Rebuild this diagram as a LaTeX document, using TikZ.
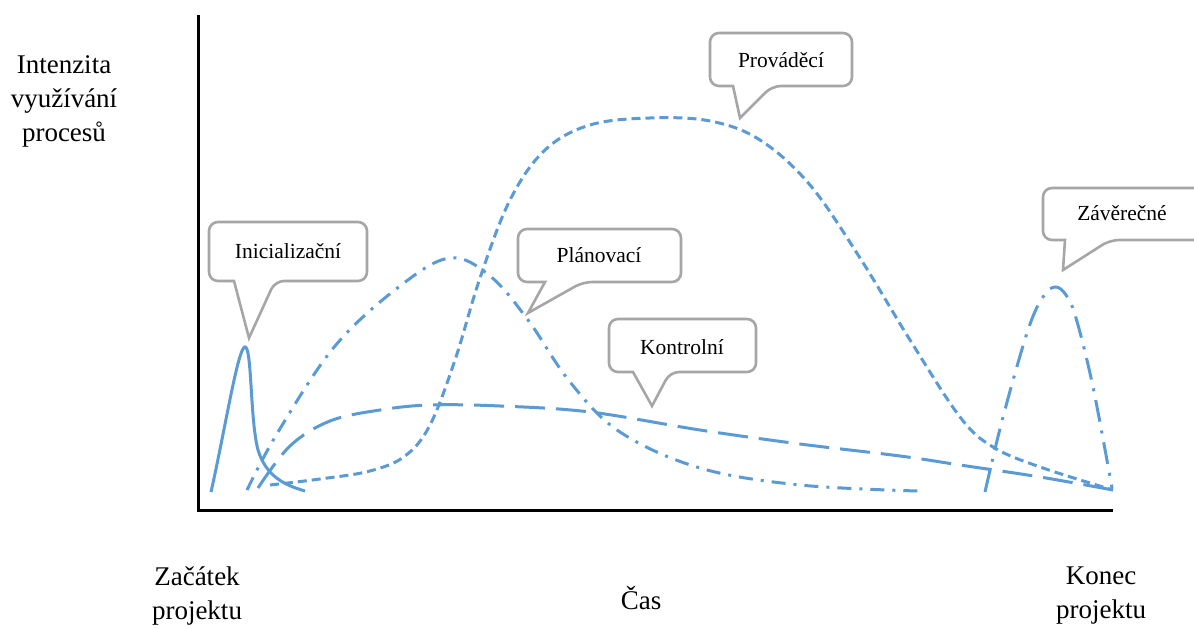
\documentclass[tikz,border=0pt]{standalone}
\usepackage{fontspec}
\setmainfont{Liberation Serif}
\begin{document}
\definecolor{curveblue}{HTML}{5B9BD5}
\definecolor{bubblegray}{HTML}{A6A6A6}
% Speech bubble outline: left, top, right, bottom, pointer base x1, x2, tip
\newcommand{\bubbleoutline}[7]{%
  \draw[bubbleline] (#5,#4) [rounded corners=9] -- (#1,#4) -- (#1,#2) -- (#3,#2) -- (#3,#4) -- (#6,#4) [sharp corners] -- (#7) -- cycle;}
\begin{tikzpicture}[x=1pt,y=-1pt,
  axisline/.style={line width=3pt,black},
  curve/.style={line width=3pt,curveblue},
  initcurve/.style={curve},
  plancurve/.style={curve,dash pattern=on 14pt off 8pt on 3pt off 8pt},
  ctrlcurve/.style={curve,dash pattern=on 30pt off 11pt},
  execcurve/.style={curve,dash pattern=on 9pt off 5pt},
  closecurve/.style={curve,dash pattern=on 22pt off 9pt on 3pt off 9pt},
  bubbleline/.style={line width=2.6pt,bubblegray,fill=white,line join=miter},
  bubbletext/.style={font=\fontsize{21.5}{26}\selectfont,inner sep=0pt},
  axistext/.style={font=\fontsize{27}{34}\selectfont,align=center,inner sep=0pt}]
\clip (0,0) rectangle (1194,628);
\fill[white] (0,0) rectangle (1194,628);

% axes
\coordinate (ytop) at (198,15);
\coordinate (origin) at (198,510);
\coordinate (xend) at (1113,510);
\draw[axisline] (ytop) -- (origin) -- (xend);

% axis texts
\node[axistext] (ylabel) at (64,101) {Intenzita\\využívání\\procesů};
\node[axistext] (start) at (197,596) {Začátek\\projektu};
\node[axistext] (time) at (641,598) {Čas};
\node[axistext] (end) at (1101,596) {Konec\\projektu};

% process curves
\draw[initcurve] (211,492) .. controls (225,430) and (238,347) .. (245,347)
  .. controls (252,347) and (250,420) .. (258,450)
  .. controls (266,476) and (284,485) .. (305,491);
\draw[plancurve] plot[smooth,tension=0.6] coordinates {(247,490) (278,432) (335,346) (400,286) (450,258) (490,276) (528,320) (570,382) (620,432) (700,468) (800,485) (918,491)};
\draw[ctrlcurve] plot[smooth,tension=0.6] coordinates {(258,488) (290,446) (330,421) (380,410) (430,405) (500,406) (590,412) (700,430) (800,444) (900,456) (960,465) (1040,477) (1113,490)};
\draw[execcurve] plot[smooth,tension=0.6] coordinates {(270,485) (320,479) (370,471) (405,456) (430,425) (455,360) (480,278) (510,200) (545,150) (590,125) (650,118) (710,121) (760,140) (810,185) (860,258) (910,340) (960,417) (993,447) (1040,467) (1113,490)};
\draw[closecurve] plot[smooth,tension=0.6] coordinates {(985,492) (1003,417) (1028,330) (1043,297) (1055,287) (1066,295) (1076,318) (1093,387) (1112,488)};

% speech bubbles
\bubbleoutline{209}{222}{367}{281}{234}{275}{249,338}
\node[bubbletext] (ini) at (288,251) {Inicializační};
\bubbleoutline{518}{229}{681}{282}{545}{583}{528,313}
\node[bubbletext] (plan) at (599,255) {Plánovací};
\bubbleoutline{609}{319}{756}{372}{633}{670}{652,406}
\node[bubbletext] (ctrl) at (682,347) {Kontrolní};
\bubbleoutline{710}{33}{852}{86}{733}{772}{740,118}
\node[bubbletext] (exec) at (781,60) {Prováděcí};
\bubbleoutline{1043}{188}{1210}{240}{1065}{1110}{1063,270}
\node[bubbletext] (close) at (1122,213) {Závěrečné};
\end{tikzpicture}
\end{document}
